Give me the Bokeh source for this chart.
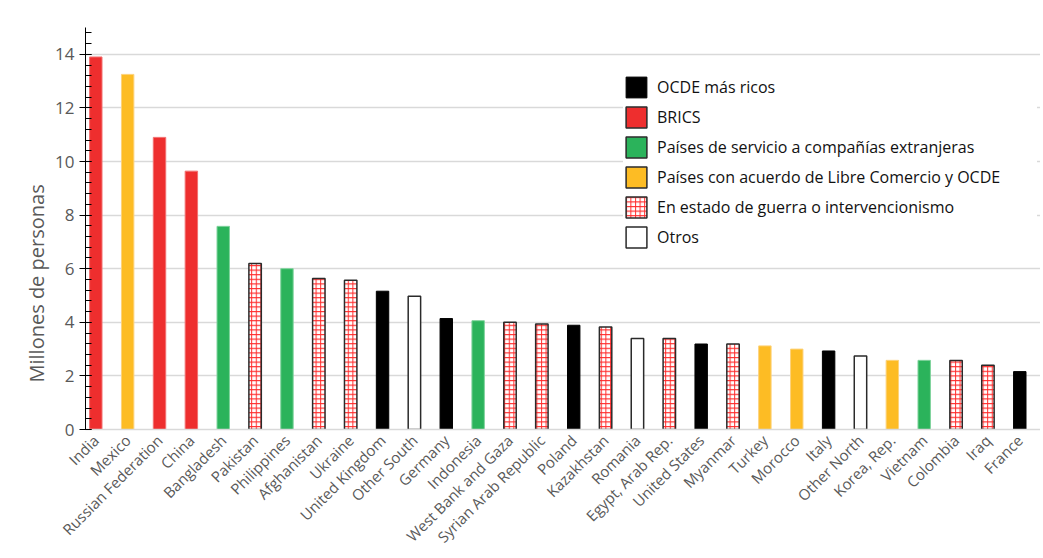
import math
from bokeh.plotting import figure
from bokeh.models import ColumnDataSource, Range1d, FixedTicker, Legend, LegendItem, Title
from bokeh.embed import file_html
from bokeh.resources import INLINE

# ---------------- data ----------------
countries = ["India", "Mexico", "Russian Federation", "China", "Bangladesh", "Pakistan",
             "Philippines", "Afghanistan", "Ukraine", "United Kingdom", "Other South",
             "Germany", "Indonesia", "West Bank and Gaza", "Syrian Arab Republic", "Poland",
             "Kazakhstan", "Romania", "Egypt, Arab Rep.", "United States", "Myanmar",
             "Turkey", "Morocco", "Italy", "Other North", "Korea, Rep.", "Vietnam",
             "Colombia", "Iraq", "France"]
millions = [13.9, 13.25, 10.9, 9.64, 7.58, 6.19, 6.0, 5.63, 5.57, 5.16, 4.97,
            4.14, 4.06, 4.0, 3.94, 3.89, 3.82, 3.4, 3.4, 3.19, 3.19,
            3.12, 3.0, 2.93, 2.74, 2.58, 2.58, 2.57, 2.4, 2.16]
groups = ["brics", "fta", "brics", "brics", "serv", "war", "serv", "war", "war", "ocde", "otros",
          "ocde", "serv", "war", "war", "ocde", "war", "otros", "war", "ocde", "war",
          "fta", "fta", "ocde", "otros", "fta", "serv", "war", "war", "ocde"]
legend_keys = ["ocde", "brics", "serv", "fta", "war", "otros"]
legend_labels = ["OCDE más ricos", "BRICS", "Países de servicio a compañías extranjeras",
                 "Países con acuerdo de Libre Comercio y OCDE",
                 "En estado de guerra o intervencionismo", "Otros"]
y_ticks = [0, 2, 4, 6, 8, 10, 12, 14]

# ---------------- styles ----------------
styles = {
    "ocde": dict(fill_color="#000000", line_color="#000000", line_width=1),
    "brics": dict(fill_color="#EE2E2E", line_color="#F27070", line_width=1),
    "serv": dict(fill_color="#2BB35B", line_color="#7FD39C", line_width=1),
    "fta": dict(fill_color="#FDBC24", line_color="#FDD27A", line_width=1),
    "war": dict(fill_color="#FFFFFF", line_color="#2A2A2A", line_width=1.5,
                hatch_pattern="+", hatch_color="#FF2A2A", hatch_scale=4.6, hatch_weight=1),
    "otros": dict(fill_color="#FFFFFF", line_color="#2A2A2A", line_width=1.5),
}
legend_styles = {k: dict(v) for k, v in styles.items()}
for k in ["brics", "serv", "fta"]:
    legend_styles[k]["line_color"] = "#2A2A2A"
    legend_styles[k]["line_width"] = 1.5

FONT = "Open Sans"
GREY = "#595959"

p = figure(width=1040, height=556,
           x_range=Range1d(-0.323, 29.65), y_range=Range1d(0, 15),
           output_backend="svg", toolbar_location=None,
           min_border_left=85, min_border_right=0, min_border_top=27, min_border_bottom=125)
p.outline_line_color = None
p.background_fill_color = "white"
p.border_fill_color = "white"

xs = list(range(len(countries)))
for key in legend_keys:
    idx = [i for i, g in enumerate(groups) if g == key]
    src = ColumnDataSource(dict(x=[xs[i] for i in idx], top=[millions[i] for i in idx]))
    p.vbar(x="x", top="top", bottom=0, width=0.39, source=src, **styles[key])

# legend-only renderers (squares with dark borders, no visible bar)
items = []
for key, lab in zip(legend_keys, legend_labels):
    r = p.vbar(x=[float("nan")], top=[float("nan")], width=0.39, **legend_styles[key])
    items.append(LegendItem(label=lab, renderers=[r]))

legend = Legend(items=items, location=(538, 179), orientation="vertical",
                glyph_width=26, glyph_height=26, label_height=26, spacing=4,
                padding=0, margin=0, border_line_color=None,
                background_fill_color="white", background_fill_alpha=1.0,
                label_text_font=FONT, label_text_font_size="16px",
                label_text_color="#111111", label_standoff=8, label_width=380)
p.add_layout(legend)

# x axis
p.xaxis.ticker = FixedTicker(ticks=xs)
p.xaxis.major_label_overrides = {i: c for i, c in enumerate(countries)}
p.xaxis.major_label_orientation = math.pi / 4
p.xaxis.axis_line_color = "#D9D9D9"
p.xaxis.axis_line_width = 1.5
p.xaxis.major_tick_line_color = None
p.xaxis.minor_tick_line_color = None
p.xaxis.major_label_text_color = GREY
p.xaxis.major_label_text_font = FONT
p.xaxis.major_label_text_font_size = "15px"
p.xaxis.major_label_standoff = 2

# y axis
p.yaxis.ticker = FixedTicker(ticks=y_ticks, minor_ticks=[round(0.4 * i, 1) for i in range(38)])
p.yaxis.axis_line_color = "#000000"
p.yaxis.major_tick_line_color = "#000000"
p.yaxis.minor_tick_line_color = "#000000"
p.yaxis.major_tick_in = 6
p.yaxis.major_tick_out = 6
p.yaxis.minor_tick_in = 6
p.yaxis.minor_tick_out = 0
p.yaxis.major_label_text_color = GREY
p.yaxis.major_label_text_font = FONT
p.yaxis.major_label_text_font_size = "17px"
p.yaxis.major_label_standoff = 5

p.xgrid.visible = False
p.ygrid.ticker = FixedTicker(ticks=y_ticks[1:])
p.ygrid.grid_line_color = "#D9D9D9"
p.ygrid.grid_line_width = 1.5

p.add_layout(Title(text="Millones de personas", align="left", offset=47,
                   text_font=FONT, text_font_size="20px", text_font_style="normal",
                   text_color=GREY, standoff=5), "left")

open("out.html", "w").write(file_html(p, INLINE))
